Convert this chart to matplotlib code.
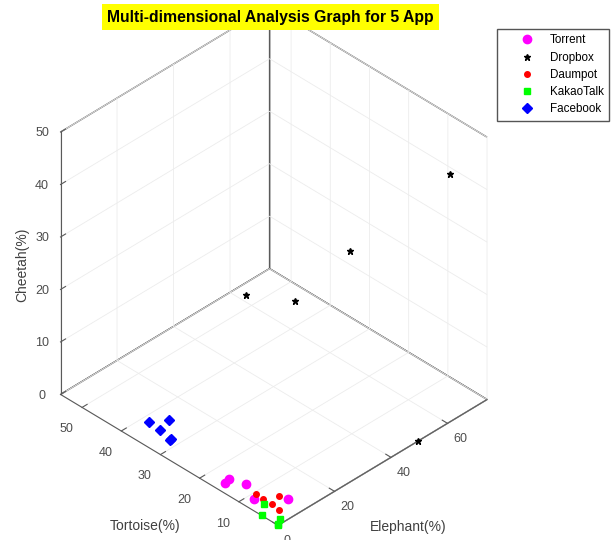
import matplotlib.pyplot as plt

plt.rcParams['font.family'] = ['Liberation Sans', 'DejaVu Sans']

# Elephant (x), Tortoise (y), Cheetah (z) in percent
torrent_elephant = [3.2, 5.0, 6.4, 3.6, 9.4]
torrent_tortoise = [15.8, 16.1, 12.8, 8.7, 4.2]
torrent_cheetah = [0, 0, 0, 0, 0]

dropbox_elephant = [2.6, 13.0, 32.4, 67.7, 49.5]
dropbox_tortoise = [10.0, 5.0, 5.0, 5.0, 0.0]
dropbox_cheetah = [38.6, 36.3, 39.6, 42.8, 0.0]

daumpot_elephant = [5.4, 5.2, 5.2, 8.8, 4.6]
daumpot_tortoise = [9.5, 7.5, 5.3, 6.1, 3.1]
daumpot_cheetah = [0, 0, 0, 0, 0]

kakao_elephant = [3.9, 0.0, 2.1, 0.0, 0.5]
kakao_tortoise = [6.3, 4.2, 1.0, 0.0, 0.3]
kakao_cheetah = [0, 0, 0, 0, 0]

facebook_elephant = [7.7, 11.8, 7.2, 6.0, 6.5]
facebook_tortoise = [38.4, 36.2, 35.2, 31.8, 32.0]
facebook_cheetah = [0, 0, 0, 0, 0]

fig = plt.figure(figsize=(6.15, 5.4), dpi=100)
ax = fig.add_axes([-0.0063, 0.0107, 0.88, 0.968], projection='3d', proj_type='ortho')

ax.plot(torrent_elephant, torrent_tortoise, torrent_cheetah, 'o', color='#ff00ff',
        markersize=6, label='Torrent')
ax.plot(dropbox_elephant, dropbox_tortoise, dropbox_cheetah, '*', color='black',
        markersize=5, label='Dropbox')
ax.plot(daumpot_elephant, daumpot_tortoise, daumpot_cheetah, 'o', color='#ff0000',
        markersize=4, label='Daumpot')
ax.plot(kakao_elephant, kakao_tortoise, kakao_cheetah, 's', color='#00ff00',
        markersize=4.5, label='KakaoTalk')
ax.plot(facebook_elephant, facebook_tortoise, facebook_cheetah, 'D', color='#0000ff',
        markersize=5, label='Facebook')

ax.set_xlim(0, 74)
ax.set_ylim(0, 55.5)
ax.set_zlim(0, 50)
ax.set_xticks([0, 20, 40, 60])
ax.set_yticks([0, 10, 20, 30, 40, 50])
ax.set_zticks([0, 10, 20, 30, 40, 50])
ax.set_box_aspect((296, 308, 329))
ax.view_init(elev=37, azim=-135)

for axis in (ax.xaxis, ax.yaxis, ax.zaxis):
    axis.set_pane_color((1, 1, 1, 1))
    axis.pane.set_edgecolor('#5a5a5a')
    axis.line.set_color('#5a5a5a')
    axis._axinfo['grid'].update(color='#ececec', linewidth=0.6)
    axis._axinfo['tick'].update(inward_factor=0.0, outward_factor=0.3)

ax.tick_params(labelsize=9, labelcolor='#4d4d4d', colors='#5a5a5a')
ax.xaxis.set_tick_params(pad=-3)
ax.yaxis.set_tick_params(pad=0)
ax.zaxis.set_tick_params(pad=0.5)
plt.setp(ax.get_xticklabels(), ha='left')
plt.setp(ax.get_yticklabels(), ha='right')
plt.setp(ax.get_zticklabels(), va='center_baseline')

# axis titles placed flat, as in the original
fig.text(408 / 615, 1 - 527 / 540, 'Elephant(%)', ha='center', va='center',
         fontsize=10, color='#404040')
fig.text(145 / 615, 1 - 526 / 540, 'Tortoise(%)', ha='center', va='center',
         fontsize=10, color='#404040')
fig.text(22 / 615, 1 - 265 / 540, 'Cheetah(%)', ha='center', va='center',
         fontsize=10, color='#404040', rotation=90)

fig.text(0.44, 0.968, 'Multi-dimensional Analysis Graph for 5 App', ha='center',
         va='center', fontsize=11.3, fontweight='bold',
         bbox=dict(facecolor='#ffff00', edgecolor='none', pad=4))

leg = fig.legend(loc='upper left', bbox_to_anchor=(0.808, 0.946), fontsize=8.4,
                 fancybox=False, edgecolor='#555555', framealpha=1,
                 handlelength=4.2, handletextpad=-0.1, borderpad=0.45,
                 labelspacing=0.45, borderaxespad=0)

fig.savefig('out.png')
